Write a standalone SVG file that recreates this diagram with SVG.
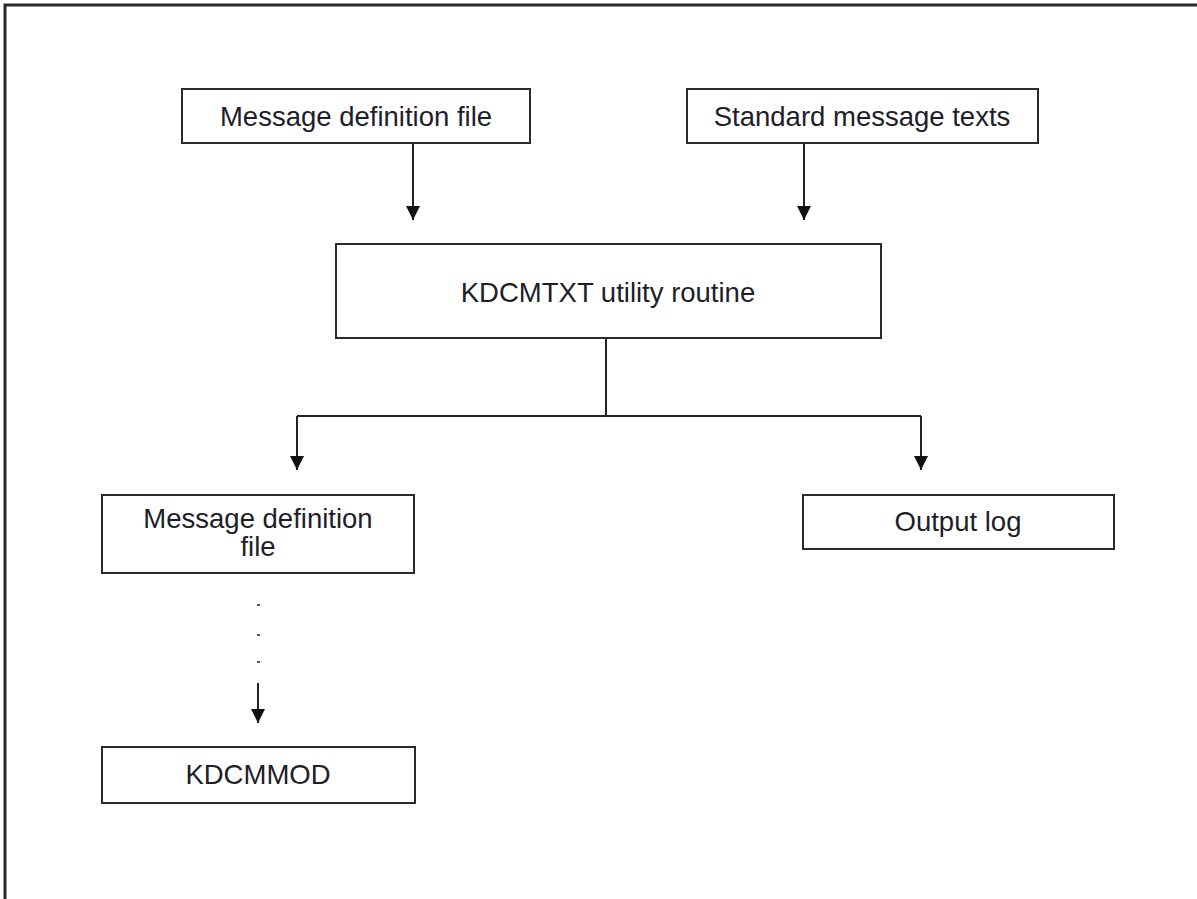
<svg xmlns="http://www.w3.org/2000/svg" width="1197" height="899" viewBox="0 0 1197 899">
<style>
.box{fill:#fff;stroke:#2a2a2a;stroke-width:2}
.lbl{font-family:"Liberation Sans",Arial,sans-serif;font-size:27.5px;fill:#1e1e2a;text-anchor:middle}
.ln{fill:none;stroke:#222;stroke-width:2}
.dot{fill:#555}
</style>
<defs>
<marker id="ad" markerUnits="userSpaceOnUse" markerWidth="15" markerHeight="14" refX="14" refY="7" orient="auto" viewBox="0 0 15 14">
<path d="M0,0 L14,7 L0,14 Z" fill="#111"/>
</marker>
</defs>
<rect width="1197" height="899" fill="#fff"/>
<path d="M5,899 V5 H1197" fill="none" stroke="#2a2a2a" stroke-width="3"/>
<g id="connectors">
<line class="ln" x1="413" y1="143" x2="413" y2="220" marker-end="url(#ad)"/>
<line class="ln" x1="804" y1="143" x2="804" y2="220" marker-end="url(#ad)"/>
<path class="ln" d="M606,338 V416"/>
<path class="ln" d="M297,416 H921"/>
<line class="ln" x1="297" y1="416" x2="297" y2="470" marker-end="url(#ad)"/>
<line class="ln" x1="921" y1="416" x2="921" y2="470" marker-end="url(#ad)"/>
<rect class="dot" x="257" y="604" width="3" height="2"/>
<rect class="dot" x="257" y="634" width="3" height="2"/>
<rect class="dot" x="257" y="661" width="3" height="2"/>
<line class="ln" x1="258" y1="683" x2="258" y2="723" marker-end="url(#ad)"/>
</g>
<g id="msgdef-in">
<rect class="box" x="182" y="89" width="348" height="54"/>
<text class="lbl" x="356" y="126">Message definition file</text>
</g>
<g id="std-texts">
<rect class="box" x="687" y="89" width="351" height="54"/>
<text class="lbl" x="862" y="126">Standard message texts</text>
</g>
<g id="kdcmtxt">
<rect class="box" x="336" y="244" width="545" height="94"/>
<text class="lbl" x="608" y="302">KDCMTXT utility routine</text>
</g>
<g id="msgdef-out">
<rect class="box" x="102" y="495" width="312" height="78"/>
<text class="lbl" x="258" y="528">Message definition</text>
<text class="lbl" x="258" y="556">file</text>
</g>
<g id="output-log">
<rect class="box" x="803" y="495" width="311" height="54"/>
<text class="lbl" x="958" y="531">Output log</text>
</g>
<g id="kdcmmod">
<rect class="box" x="102" y="747" width="313" height="56"/>
<text class="lbl" x="258" y="784">KDCMMOD</text>
</g>
</svg>
